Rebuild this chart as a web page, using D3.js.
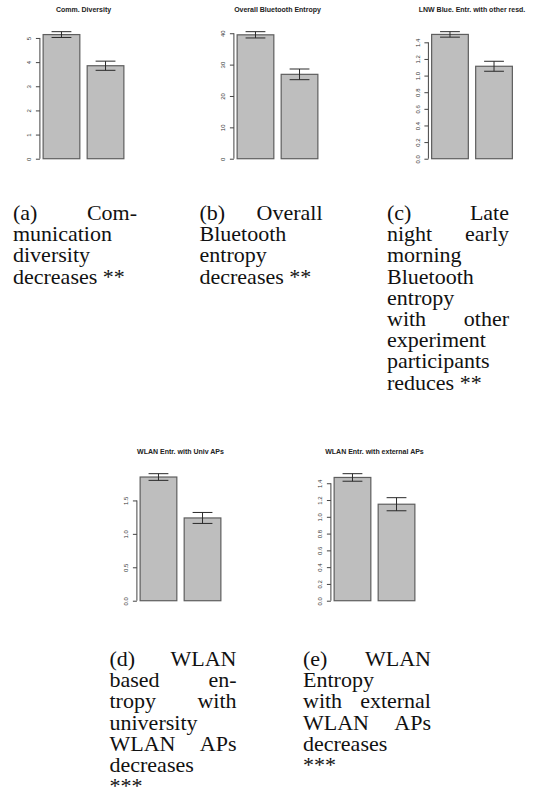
<!DOCTYPE html>
<html>
<head>
<meta charset="utf-8">
<script src="https://cdn.jsdelivr.net/npm/d3@7/dist/d3.min.js"></script>
<style>
  html, body { margin: 0; padding: 0; background: #fff; }
  svg { display: block; }
  .cap { font-family: "Liberation Serif", "Tinos", "Times New Roman", Times, "DejaVu Serif", serif; font-size: 22px; fill: #111; }
  .small { font-family: "Liberation Sans", Arial, Helvetica, sans-serif; }
</style>
</head>
<body>
<svg id="fig" width="542" height="810"></svg>
<script>
// ---- data ----
const groups = ["before", "after"];
const panelTitles = [
  "Comm. Diversity",
  "Overall Bluetooth Entropy",
  "LNW Blue. Entr. with other resd.",
  "WLAN Entr. with Univ APs",
  "WLAN Entr. with external APs"
];
const barMeans = [
  [5.14, 3.85],
  [39.5, 26.9],
  [1.495, 1.112],
  [1.85, 1.238],
  [1.469, 1.15]
];
const barErrors = [
  [0.12, 0.19],
  [1.0, 1.7],
  [0.033, 0.06],
  [0.05, 0.082],
  [0.045, 0.078]
];
const tickValues = [
  [0, 1, 2, 3, 4, 5],
  [0, 10, 20, 30, 40],
  [0, 0.2, 0.4, 0.6, 0.8, 1.0, 1.2, 1.4],
  [0, 0.5, 1.0, 1.5],
  [0, 0.2, 0.4, 0.6, 0.8, 1.0, 1.2, 1.4]
];
const tickFormats = ["d", "d", ".1f", ".1f", ".1f"];
const captionLines = [
  ["(a) Com-", "munication", "diversity", "decreases **"],
  ["(b) Overall", "Bluetooth", "entropy", "decreases **"],
  ["(c) Late", "night early", "morning", "Bluetooth", "entropy", "with other",
   "experiment", "participants", "reduces **"],
  ["(d) WLAN", "based en-", "tropy with", "university", "WLAN APs", "decreases", "***"],
  ["(e) WLAN", "Entropy", "with external", "WLAN APs", "decreases", "***"]
];

// ---- layout ----
const plotW = 87.2, plotH = 137.2;
const layout = [
  { left: 39.9,  top: 26.6,  cap: { x: 13,    y: 220, w: 124 } },
  { left: 233.9, top: 26.6,  cap: { x: 199.5, y: 220, w: 123 } },
  { left: 428.4, top: 26.6,  cap: { x: 387,   y: 220, w: 122 } },
  { left: 136.9, top: 468.6, cap: { x: 109.5, y: 666, w: 127 } },
  { left: 330.9, top: 468.6, cap: { x: 303,   y: 666, w: 128 } }
];
const lineGap = 21.2;

const svg = d3.select("#fig");
svg.append("rect").attr("width", 542).attr("height", 810).attr("fill", "#fff");

panelTitles.forEach((title, i) => {
  const L = layout[i];
  const means = barMeans[i], errs = barErrors[i];
  const ymax = d3.max(means, (m, k) => m + errs[k]);

  const x = d3.scaleBand()
    .domain(groups)
    .range([L.left, L.left + plotW])
    .paddingInner(1 / 6)
    .paddingOuter(0.088 / 1.2);
  const y = d3.scaleLinear()
    .domain([-0.04 * ymax, 1.04 * ymax])
    .range([L.top + plotH, L.top]);

  const g = svg.append("g");

  // title
  g.append("text")
    .attr("class", "small")
    .attr("x", L.left + plotW / 2)
    .attr("y", L.top - 15)
    .attr("text-anchor", "middle")
    .attr("font-weight", "bold")
    .attr("font-size", 7)
    .attr("fill", "#222")
    .text(title);

  // bars
  g.selectAll("rect.bar")
    .data(groups)
    .join("rect")
    .attr("class", "bar")
    .attr("x", d => x(d))
    .attr("width", x.bandwidth())
    .attr("y", (d, k) => y(means[k]))
    .attr("height", (d, k) => y(0) - y(means[k]))
    .attr("fill", "#bebebe")
    .attr("stroke", "#5e5e5e")
    .attr("stroke-width", 1.2);

  // error bars
  const capHalf = x.bandwidth() * 0.27;
  groups.forEach((d, k) => {
    const cx = x(d) + x.bandwidth() / 2;
    const hi = y(means[k] + errs[k]), lo = y(means[k] - errs[k]);
    const eg = g.append("g").attr("stroke", "#2a2a2a").attr("stroke-width", 1);
    eg.append("line").attr("x1", cx).attr("x2", cx).attr("y1", hi).attr("y2", lo);
    eg.append("line").attr("x1", cx - capHalf).attr("x2", cx + capHalf).attr("y1", hi).attr("y2", hi);
    eg.append("line").attr("x1", cx - capHalf).attr("x2", cx + capHalf).attr("y1", lo).attr("y2", lo);
  });

  // y axis, line spanning first to last tick
  const ticks = tickValues[i];
  const axis = d3.axisLeft(y)
    .tickValues(ticks)
    .tickSize(4)
    .tickSizeOuter(0)
    .tickFormat(d3.format(tickFormats[i]));
  const ag = g.append("g")
    .attr("transform", `translate(${L.left},0)`)
    .call(axis);
  ag.attr("font-family", null).attr("font-size", null);
  ag.select(".domain").remove();
  ag.append("line")
    .attr("x1", 0).attr("x2", 0)
    .attr("y1", y(ticks[0])).attr("y2", y(ticks[ticks.length - 1]))
    .attr("stroke", "#444");
  ag.selectAll(".tick line").attr("stroke", "#444");
  ag.selectAll(".tick text")
    .attr("class", "small")
    .attr("transform", "rotate(-90)")
    .attr("x", 0)
    .attr("y", -8.5)
    .attr("dy", 0)
    .attr("text-anchor", "middle")
    .attr("font-size", 6)
    .attr("fill", "#333");
});

// ---- justified captions ----
captionLines.forEach((lines, i) => {
  const c = layout[i].cap;
  const g = svg.append("g");
  lines.forEach((line, j) => {
    const words = line.split(" ");
    const ly = c.y + j * lineGap;
    const last = j === lines.length - 1;
    if (words.length === 1 || last) {
      g.append("text").attr("class", "cap").attr("x", c.x).attr("y", ly).text(line);
      return;
    }
    const nodes = words.map(w => g.append("text").attr("class", "cap").attr("y", ly).text(w));
    const widths = nodes.map(n => n.node().getComputedTextLength());
    const gap = (c.w - d3.sum(widths)) / (words.length - 1);
    let cx = c.x;
    nodes.forEach((n, k) => { n.attr("x", cx); cx += widths[k] + gap; });
  });
});
</script>
</body>
</html>
